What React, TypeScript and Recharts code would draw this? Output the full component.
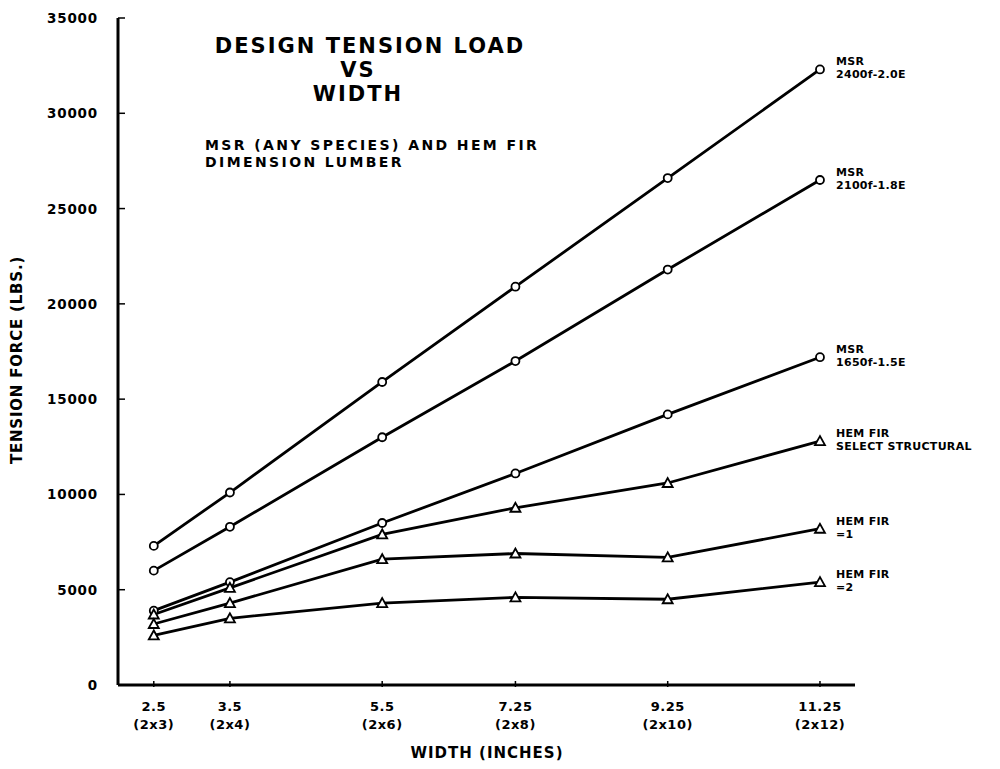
import React from 'react'
import { LineChart, Line, XAxis, YAxis, LabelList } from 'recharts'

// board widths (inches) and nominal sizes
const widths = [2.5, 3.5, 5.5, 7.25, 9.25, 11.25]
const nominalSizes = ['(2x3)', '(2x4)', '(2x6)', '(2x8)', '(2x10)', '(2x12)']
const yTicks = [0, 5000, 10000, 15000, 20000, 25000, 30000, 35000]

// design tension load (lbs.)
const msr2400 = [7300, 10100, 15900, 20900, 26600, 32300]
const msr2100 = [6000, 8300, 13000, 17000, 21800, 26500]
const msr1650 = [3900, 5400, 8500, 11100, 14200, 17200]
const hemFirSelect = [3700, 5100, 7900, 9300, 10600, 12800]
const hemFir1 = [3200, 4300, 6600, 6900, 6700, 8200]
const hemFir2 = [2600, 3500, 4300, 4600, 4500, 5400]

const series = [
  { key: 'msr2400', values: msr2400, marker: 'circle', label: ['MSR', '2400f-2.0E'] },
  { key: 'msr2100', values: msr2100, marker: 'circle', label: ['MSR', '2100f-1.8E'] },
  { key: 'msr1650', values: msr1650, marker: 'circle', label: ['MSR', '1650f-1.5E'] },
  { key: 'hemFirSelect', values: hemFirSelect, marker: 'triangle', label: ['HEM FIR', 'SELECT STRUCTURAL'] },
  { key: 'hemFir1', values: hemFir1, marker: 'triangle', label: ['HEM FIR', '=1'] },
  { key: 'hemFir2', values: hemFir2, marker: 'triangle', label: ['HEM FIR', '=2'] },
]

const data = widths.map((w, i) => {
  const row: Record<string, number> = { w }
  series.forEach((s) => (row[s.key] = s.values[i]))
  return row
})

const FONT = '"DejaVu Sans", sans-serif'

const CircleDot = (props: any) => {
  const { cx, cy } = props
  if (cx == null || cy == null) return null
  return <circle cx={cx} cy={cy} r={4} fill="#fff" stroke="#000" strokeWidth={1.8} />
}

const TriangleDot = (props: any) => {
  const { cx, cy } = props
  if (cx == null || cy == null) return null
  const s = 5
  return (
    <polygon
      points={`${cx},${cy - s} ${cx - s},${cy + s * 0.8} ${cx + s},${cy + s * 0.8}`}
      fill="#fff"
      stroke="#000"
      strokeWidth={1.8}
    />
  )
}

const XTick = (props: any) => {
  const { x, y, payload } = props
  const idx = widths.indexOf(payload.value)
  return (
    <g>
      <line x1={x} x2={x} y1={y - 12} y2={y - 18} stroke="#000" strokeWidth={1.5} />
      <text x={x} y={y + 12} textAnchor="middle" fontFamily={FONT} fontWeight="bold" fontSize={13} letterSpacing={0.5}>
        {payload.value}
      </text>
      <text x={x} y={y + 30} textAnchor="middle" fontFamily={FONT} fontWeight="bold" fontSize={13} letterSpacing={0.5}>
        {nominalSizes[idx]}
      </text>
    </g>
  )
}

const YTick = (props: any) => {
  const { x, y, payload } = props
  return (
    <g>
      <line x1={x + 20} x2={x + 27} y1={y} y2={y} stroke="#000" strokeWidth={1.5} />
      <text x={x} y={y + 5} textAnchor="end" fontFamily={FONT} fontWeight="bold" fontSize={13.5} letterSpacing={0.8}>
        {payload.value}
      </text>
    </g>
  )
}

const endLabel = (lines: string[]) => (props: any) => {
  const { x, y, index } = props
  if (index !== widths.length - 1) return null
  return (
    <g fontFamily={FONT} fontWeight="bold" fontSize={11} fill="#000" letterSpacing={0.3}>
      <text x={x + 16} y={y - 4}>{lines[0]}</text>
      <text x={x + 16} y={y + 9}>{lines[1]}</text>
    </g>
  )
}

export default function App() {
  return (
    <div style={{ position: 'absolute', left: 0, top: 0, background: '#fff' }}>
      <LineChart width={1000} height={769} data={data} margin={{ top: 18, right: 145, bottom: 0, left: 0 }}>
        <XAxis
          dataKey="w"
          type="number"
          domain={[2.03, 11.71]}
          ticks={widths}
          allowDataOverflow
          height={84}
          axisLine={{ stroke: '#000', strokeWidth: 3 }}
          tickLine={false}
          tick={<XTick />}
          tickMargin={8}
        />
        <YAxis
          type="number"
          domain={[0, 35000]}
          ticks={yTicks}
          width={118}
          axisLine={{ stroke: '#000', strokeWidth: 3 }}
          tickLine={false}
          tickSize={0}
          tickMargin={20}
          tick={<YTick />}
        />
        {series.map((s) => (
          <Line
            key={s.key}
            dataKey={s.key}
            stroke="#000"
            strokeWidth={2.8}
            isAnimationActive={false}
            dot={s.marker === 'circle' ? <CircleDot /> : <TriangleDot />}
            activeDot={false}
          >
            <LabelList dataKey={s.key} content={endLabel(s.label)} />
          </Line>
        ))}
        <g fontFamily={FONT} fontWeight="bold" fill="#000">
          <text x={370} y={53} textAnchor="middle" fontSize={21} letterSpacing={2}>DESIGN TENSION LOAD</text>
          <text x={358} y={77} textAnchor="middle" fontSize={21} letterSpacing={2}>VS</text>
          <text x={358} y={101} textAnchor="middle" fontSize={21} letterSpacing={2}>WIDTH</text>
          <text x={205} y={150} fontSize={14} letterSpacing={2.4}>MSR (ANY SPECIES) AND HEM FIR</text>
          <text x={205} y={167} fontSize={14} letterSpacing={2.4}>DIMENSION LUMBER</text>
          <text x={487} y={758} textAnchor="middle" fontSize={15} letterSpacing={1}>WIDTH (INCHES)</text>
          <text x={22} y={360} textAnchor="middle" fontSize={15} letterSpacing={0.8} transform="rotate(-90 22 360)">
            TENSION FORCE (LBS.)
          </text>
        </g>
      </LineChart>
    </div>
  )
}
